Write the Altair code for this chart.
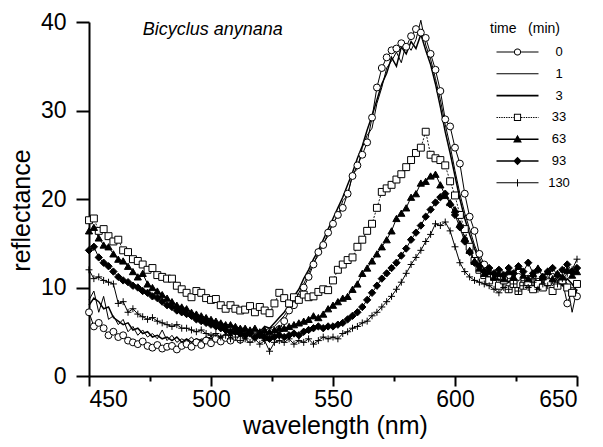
import math
import altair as alt
import pandas as pd

# ---------------- data ----------------
wavelength = list(range(450, 651, 2))
times = ["0", "1", "3", "33", "63", "93", "130"]

r_0 = [
    7.2, 5.6, 6.0, 5.4, 4.6, 5.0, 4.4, 4.6, 4.0, 3.8,
    3.6, 3.9, 3.4, 3.2, 3.5, 3.1, 3.3, 3.4, 3.0, 3.4,
    3.6, 3.3, 3.8, 3.5, 4.0, 3.7, 4.2, 3.9, 4.3, 4.0,
    4.4, 4.1, 4.6, 4.2, 4.5, 4.8, 4.4, 5.0, 4.7, 5.3,
    6.2, 7.4, 8.0, 8.8, 10.0, 11.2, 12.6, 14.0, 14.8, 16.2,
    17.2, 18.2, 19.0, 20.6, 22.6, 23.8, 25.0, 26.4, 29.2, 32.6,
    34.8, 36.0, 36.8, 37.0, 37.6, 37.2, 38.4, 39.2, 38.8, 38.2,
    36.4, 34.6, 32.2, 29.0, 28.2, 25.8, 24.0, 20.6, 18.0, 16.4,
    13.8, 12.6, 11.6, 11.2, 11.8, 10.8, 11.4, 10.6, 11.2, 10.4,
    11.0, 10.6, 11.4, 10.2, 10.8, 11.2, 10.4, 10.8, 8.2, 9.6,
    9.0,
]
r_1 = [
    8.6, 9.6, 7.2, 9.0, 6.4, 6.8, 5.8, 6.4, 5.0, 5.6,
    4.6, 5.2, 4.4, 4.8, 4.2, 5.2, 4.0, 4.6, 3.8, 4.2,
    3.9, 4.4, 3.8, 4.2, 4.0, 4.5, 4.1, 4.6, 4.2, 4.8,
    4.4, 4.9, 4.5, 5.0, 4.6, 5.2, 4.8, 5.4, 5.6, 6.2,
    6.8, 7.6, 8.4, 9.4, 10.4, 11.6, 12.8, 13.6, 15.0, 15.8,
    17.4, 18.0, 19.8, 20.4, 22.8, 23.4, 25.8, 27.2, 28.0, 30.8,
    32.6, 34.8, 35.6, 36.6, 35.4, 37.6, 36.8, 38.0, 40.2, 37.4,
    35.8, 33.6, 31.2, 28.4, 26.0, 23.2, 20.6, 18.4, 16.6, 14.8,
    13.4, 12.2, 11.6, 11.0, 11.4, 10.6, 11.2, 10.8, 11.4, 10.4,
    11.0, 10.4, 11.2, 10.6, 11.0, 10.2, 10.8, 11.2, 10.4, 7.2,
    9.8,
]
r_3 = [
    8.0, 8.8, 8.4, 7.6, 7.8, 6.6, 6.2, 5.8, 6.0, 5.2,
    5.4, 4.8, 5.0, 4.4, 4.6, 4.2, 4.4, 4.0, 4.4, 3.8,
    4.2, 3.8, 4.2, 4.0, 4.4, 4.2, 4.6, 4.3, 4.8, 4.5,
    5.0, 4.6, 5.2, 4.8, 5.3, 5.0, 5.6, 5.4, 6.0, 6.6,
    7.2, 8.0, 9.0, 9.8, 11.0, 12.0, 13.2, 14.2, 15.4, 16.6,
    17.8, 19.0, 20.2, 21.6, 23.0, 24.6, 26.0, 27.8, 29.4, 31.2,
    33.0, 34.2, 36.0, 35.0, 37.2, 36.4, 37.8, 37.0, 38.6, 36.8,
    35.2, 33.0, 30.4, 27.6, 25.2, 22.6, 20.0, 17.8, 16.0, 14.4,
    13.0, 12.0, 11.4, 11.8, 10.8, 11.4, 10.6, 11.2, 10.8, 11.6,
    10.6, 11.2, 10.4, 11.0, 10.6, 11.4, 10.8, 10.2, 11.0, 10.4,
    9.6,
]
r_33 = [
    17.6, 17.8, 16.4, 16.6, 15.8, 15.2, 15.4, 14.2, 14.0, 13.2,
    13.0, 12.6, 12.0, 12.2, 11.4, 11.2, 11.0, 11.0, 10.2, 9.8,
    9.4, 8.9, 9.6, 9.4, 8.8, 8.6, 8.7, 8.0, 7.6, 8.0,
    7.6, 7.4, 7.5, 7.9, 7.2, 7.8, 7.4, 7.1, 8.2, 9.4,
    8.8, 8.2, 8.9, 8.6, 9.2, 8.9, 9.0, 9.5, 9.8, 9.7,
    10.8, 12.0, 12.6, 13.1, 13.4, 14.6, 15.4, 16.4, 17.2, 19.0,
    20.8, 21.2, 21.6, 22.2, 22.8, 23.6, 24.4, 25.2, 25.8, 27.6,
    25.0, 24.6, 24.4, 23.8, 22.0, 20.4, 18.2, 16.6, 14.6, 13.0,
    12.0, 11.4, 10.8, 11.2, 10.2, 10.8, 9.8, 10.4, 9.6, 10.2,
    10.6, 9.8, 10.4, 10.0, 10.6, 9.6, 10.2, 10.8, 10.0, 9.4,
    10.4,
]
r_63 = [
    16.4, 16.8, 15.6, 14.8, 14.6, 13.8, 13.2, 13.0, 12.4, 11.8,
    11.2, 11.6, 10.4, 10.0, 9.6, 9.2, 8.8, 8.4, 8.0, 7.8,
    7.6, 7.2, 7.0, 6.8, 6.6, 6.4, 6.2, 6.0, 5.8, 5.8,
    5.6, 5.4, 5.4, 5.2, 5.4, 5.0, 5.2, 5.0, 5.2, 5.4,
    5.4, 5.6, 5.8, 6.0, 6.2, 6.4, 6.8, 6.6, 7.0, 7.6,
    8.0, 8.4, 8.8, 9.0, 9.8, 10.4, 11.6, 12.2, 13.0, 13.8,
    14.6, 15.4, 16.4, 17.8, 18.4, 19.0, 20.2, 20.6, 21.8, 22.0,
    22.6, 22.8, 21.6, 20.4, 19.6, 18.8, 17.2, 15.6, 14.2, 13.0,
    12.2, 11.6, 11.8, 11.2, 11.6, 11.0, 11.8, 11.2, 12.4, 11.4,
    11.0, 11.6, 12.2, 11.2, 11.8, 11.0, 11.6, 11.2, 12.0, 11.4,
    11.8,
]
r_93 = [
    14.2, 14.6, 13.4, 12.8, 12.4, 11.8, 11.2, 10.8, 10.6, 10.2,
    10.0, 9.6, 9.4, 9.0, 8.8, 8.4, 8.0, 7.8, 7.4, 7.2,
    7.0, 6.8, 6.4, 6.2, 6.0, 5.8, 5.6, 5.4, 5.2, 5.0,
    5.0, 4.8, 4.6, 4.8, 4.4, 4.6, 4.4, 4.2, 4.4, 4.6,
    4.4, 4.6, 4.8, 4.6, 5.0, 5.2, 5.4, 5.6, 5.4, 5.6,
    5.6, 5.8, 6.0, 6.4, 6.8, 7.2, 7.8, 8.6, 9.4, 10.2,
    11.0, 11.6, 12.2, 12.8, 13.6, 14.4, 15.4, 16.2, 17.0, 18.0,
    18.8, 19.6, 20.2, 20.6, 19.4, 18.2, 16.8, 15.2, 14.0, 12.8,
    12.4, 11.8, 12.2, 11.6, 12.0, 11.4, 12.2, 11.6, 12.4, 11.8,
    12.8, 11.6, 12.0, 11.2, 11.8, 12.2, 11.4, 12.0, 12.6, 11.8,
    12.2,
]
r_130 = [
    12.0, 11.0, 11.2, 10.8, 10.6, 10.4, 8.2, 8.4, 7.2, 7.6,
    7.0, 6.7, 6.4, 6.6, 6.2, 6.0, 5.8, 5.6, 5.8, 5.4,
    5.4, 5.2, 5.0, 5.2, 4.8, 4.6, 4.8, 4.4, 4.6, 4.2,
    4.4, 4.0, 4.2, 3.8, 4.2, 3.6, 4.0, 2.8, 3.8, 4.0,
    3.8, 4.2, 3.6, 4.0, 3.8, 4.2, 3.6, 4.0, 4.4, 4.2,
    4.4, 4.2, 4.8, 5.0, 5.4, 5.6, 6.0, 6.2, 6.8, 7.2,
    7.8, 8.4, 9.0, 9.8, 10.6, 11.6, 12.6, 13.4, 14.2, 15.2,
    16.0, 17.2, 17.0, 17.4, 16.4, 14.6, 12.8, 11.8, 11.2, 10.8,
    10.6, 10.4, 10.2, 9.8, 9.4, 10.0, 9.8, 10.4, 9.6, 10.2,
    10.0, 10.6, 9.8, 10.4, 10.2, 10.8, 10.4, 11.0, 11.6, 12.0,
    13.2,
]

note_x = [472]
note_y = [39.1]
note_text = ["Bicyclus anynana"]

x_ticks = [450, 475, 500, 525, 550, 575, 600, 625, 650]
y_ticks = [0, 10, 20, 30, 40]

series = dict(zip(times, [r_0, r_1, r_3, r_33, r_63, r_93, r_130]))
for k, v in series.items():
    assert len(v) == len(wavelength), (k, len(v))

df = pd.DataFrame(
    [
        {"wavelength": w, "reflectance": val, "time": t}
        for t, vals in series.items()
        for w, val in zip(wavelength, vals)
    ]
)
notes = pd.DataFrame({"wavelength": note_x, "reflectance": note_y, "text": note_text})

FONT = "Liberation Sans"

# ---------------- legend glyphs (line + marker as one custom path) ----------------
PX = 2.0  # pixels per path unit for symbol size 16


def f(v):
    s = f"{v / PX:.3f}".rstrip("0").rstrip(".")
    return "0" if s in ("", "-0") else s


def poly(pts):
    return "M" + "L".join(f"{f(x)},{f(y)}" for x, y in pts) + "Z"


def rect(x0, x1, t):
    return poly([(x0, -t / 2), (x1, -t / 2), (x1, t / 2), (x0, t / 2)])


def circle_pts(cx, r, n=18, rev=False):
    pts = [(cx + r * math.cos(2 * math.pi * i / n), r * math.sin(2 * math.pi * i / n)) for i in range(n)]
    return pts[::-1] if rev else pts


def square_pts(cx, h, rev=False):
    pts = [(cx - h, -h), (cx + h, -h), (cx + h, h), (cx - h, h)]
    return pts[::-1] if rev else pts


def dotted(x0, x1, t, dash=1.4, gap=1.0):
    out, x = [], x0
    while x < x1:
        out.append(rect(x, min(x + dash, x1), t))
        x += dash + gap
    return "".join(out)


L, C, R = 0.0, 21.0, 42.0
legend_paths = [
    rect(L, C - 3.6, 1.2) + rect(C + 3.6, R, 1.2) + poly(circle_pts(C, 3.6)) + poly(circle_pts(C, 2.6, rev=True)),
    rect(L, R, 1.0),
    rect(L, R, 1.9),
    dotted(L, C - 3.6, 1.0) + dotted(C + 3.6, R, 1.0) + poly(square_pts(C, 3.6)) + poly(square_pts(C, 2.6, rev=True)),
    rect(L, R, 1.4) + poly([(C, -4.4), (C + 4.4, 3.2), (C - 4.4, 3.2)]),
    rect(L, R, 1.4) + poly([(C, -4.2), (C + 4.2, 0), (C, 4.2), (C - 4.2, 0)]),
    rect(L, R, 1.1) + poly([(C - 0.5, -3.6), (C + 0.5, -3.6), (C + 0.5, 3.6), (C - 0.5, 3.6)]),
]

# ---------------- chart ----------------
x_enc = alt.X(
    "wavelength:Q",
    scale=alt.Scale(domain=[450, 650], nice=False, zero=False),
    axis=alt.Axis(
        values=x_ticks,
        format="d",
        labelExpr="datum.value % 50 === 0 ? datum.label : ''",
        tickSize=10,
        # minor ticks (every 25 nm): only the first 5 px of the tick is drawn
        tickDash={"condition": {"test": "datum.value % 50 !== 0", "value": [5, 30]}, "value": [1, 0]},
        labelPadding=2,
        title="wavelength (nm)",
        titleX=246,
        titleY=57,
        titleBaseline="alphabetic",
        titleFontSize=25,
    ),
)
y_enc = alt.Y(
    "reflectance:Q",
    scale=alt.Scale(domain=[0, 40], nice=False),
    axis=alt.Axis(
        values=y_ticks,
        tickSize=13,
        labelPadding=10,
        title="reflectance",
        titleX=-60,
        titleY=188,
        titleBaseline="alphabetic",
        titleFontSize=25,
    ),
)

base = alt.Chart(df).encode(x=x_enc, y=y_enc)

line_style = {
    "0": dict(strokeWidth=1.0),
    "1": dict(strokeWidth=1.0),
    "3": dict(strokeWidth=1.5),
    "33": dict(strokeWidth=0.9, strokeDash=[2, 1.5]),
    "63": dict(strokeWidth=1.0),
    "93": dict(strokeWidth=1.0),
    "130": dict(strokeWidth=1.0),
}
marker_style = {
    "0": dict(shape="circle", fill="white", size=48),
    "33": dict(shape="square", fill="white", size=48),
    "63": dict(shape="triangle-up", fill="black", size=52),
    "93": dict(shape="diamond", fill="black", size=54),
    "130": dict(shape="M-1,0L1,0M0,-1L0,1", fill="transparent", size=48),
}

layers = []
for t in times:
    layers.append(
        base.transform_filter(alt.datum.time == t).mark_line(color="black", **line_style[t])
    )
for t in ["0", "33", "63", "93", "130"]:
    layers.append(
        base.transform_filter(alt.datum.time == t).mark_point(
            filled=True, stroke="black", strokeWidth=1, opacity=1, **marker_style[t]
        )
    )

note_layer = (
    alt.Chart(notes)
    .mark_text(align="left", baseline="middle", fontStyle="italic", fontSize=18, font=FONT, color="black")
    .encode(x=x_enc, y=y_enc, text="text:N")
)
layers.append(note_layer)

legend_layer = (
    base.transform_filter("false")
    .mark_point(filled=True, color="black", size=16, opacity=1, strokeWidth=0)
    .encode(
        shape=alt.Shape(
            "time:N",
            scale=alt.Scale(domain=times, range=legend_paths),
            sort=times,
            legend=alt.Legend(
                title="time\u00a0\u00a0\u00a0(min)",
                orient="none",
                legendX=401,
                legendY=0,
                padding=0,
                symbolSize=16,
                symbolFillColor="black",
                symbolStrokeWidth=0,
                symbolOpacity=1,
                labelAlign="center",
                labelOffset=56,
                labelFontSize=13,
                labelFont=FONT,
                labelColor="black",
                titleFont=FONT,
                titleFontSize=14,
                titleFontWeight="normal",
                titleColor="black",
                titlePadding=9,
                rowPadding=7.8,
                clipHeight=14,
            ),
        )
    )
)
layers.append(legend_layer)

chart = (
    alt.layer(*layers)
    .properties(
        width=488,
        height=354,
        autosize=alt.AutoSizeParams(type="none"),
        padding={"left": 81, "top": 14, "right": 10, "bottom": 63},
    )
    .configure_view(stroke=None)
    .configure_axis(
        grid=False,
        domainColor="black",
        domainWidth=2,
        tickColor="black",
        tickWidth=2,
        labelColor="black",
        titleColor="black",
        labelFont=FONT,
        titleFont=FONT,
        labelFontSize=23,
        titleFontWeight="normal",
    )
)

chart.save("out.html", embed_options={"renderer": "svg", "actions": False})
